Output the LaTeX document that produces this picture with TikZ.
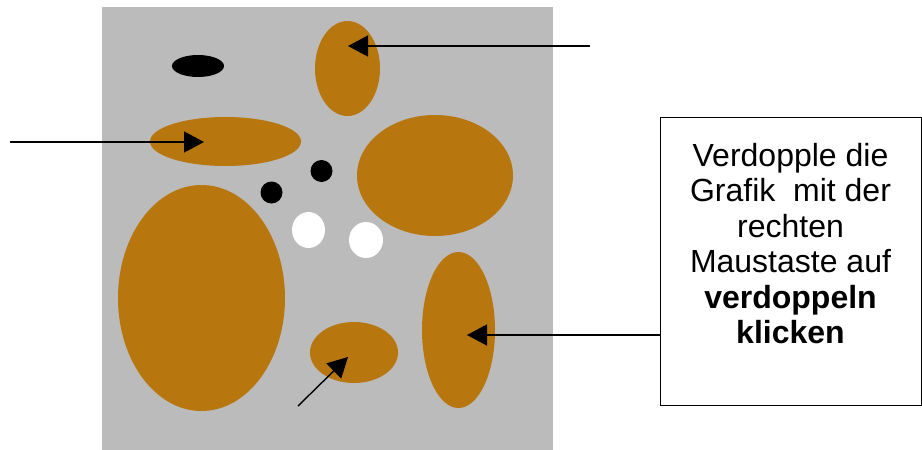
\documentclass[tikz,border=0pt]{standalone}
\usepackage{fontspec}
\setmainfont{Liberation Sans}
\usetikzlibrary{arrows.meta}
\definecolor{bg}{RGB}{187,187,187}
\definecolor{brn}{RGB}{183,118,14}
\tikzset{
  arr/.style={line width=1.4pt,-{Triangle[length=20pt,width=21pt]}},
  blob/.style={fill=brn},
}
\begin{document}
\begin{tikzpicture}[x=1pt,y=-1pt]
\useasboundingbox (0,0) rectangle (922,450);
\fill[white] (0,0) rectangle (922,450);
\fill[bg] (102,7) rectangle (553,450);
% black ellipse
\fill[black] (198,66) ellipse [x radius=26, y radius=11];
% brown ellipses
\fill[blob] (347.5,68.5) ellipse [x radius=32.5, y radius=47.5];
\fill[blob] (225.5,141.5) ellipse [x radius=75.5, y radius=24.5];
\fill[blob] (435,175.5) ellipse [x radius=78, y radius=60.5];
\fill[blob] (201.5,298) ellipse [x radius=83.5, y radius=113];
\fill[blob] (354,352.5) ellipse [x radius=44, y radius=30.5];
\fill[blob] (458.5,330) ellipse [x radius=36.5, y radius=78];
% dots
\fill[black] (321.5,171) circle [radius=11];
\fill[black] (271.5,192.5) circle [radius=11];
\fill[white] (308.5,230) ellipse [x radius=16.5, y radius=18];
\fill[white] (366,240) ellipse [x radius=17, y radius=18];
% box
\node[draw,line width=1pt,minimum width=261,minimum height=288,inner sep=0] (box) at (790.5,261) {};
\node[anchor=north,align=center,inner sep=0,font=\fontsize{32}{35.5}\selectfont] (txt) at (790.5,143)
  {Verdopple die\\Grafik\ \ mit der\\rechten\\Maustaste auf\\\textbf{verdoppeln}\\\textbf{klicken}};
% arrow endpoints
\coordinate (t1s) at (590,46);
\coordinate (t1e) at (348,46);
\coordinate (t2s) at (10,142);
\coordinate (t2e) at (204,142);
\coordinate (t3s) at (660,335);
\coordinate (t3e) at (467,335);
\coordinate (t4s) at (298,406);
\coordinate (t4e) at (348,357);
\draw[arr] (t1s) -- (t1e);
\draw[arr] (t2s) -- (t2e);
\draw[arr] (t3s) -- (t3e);
\draw[arr] (t4s) -- (t4e);
\end{tikzpicture}
\end{document}
